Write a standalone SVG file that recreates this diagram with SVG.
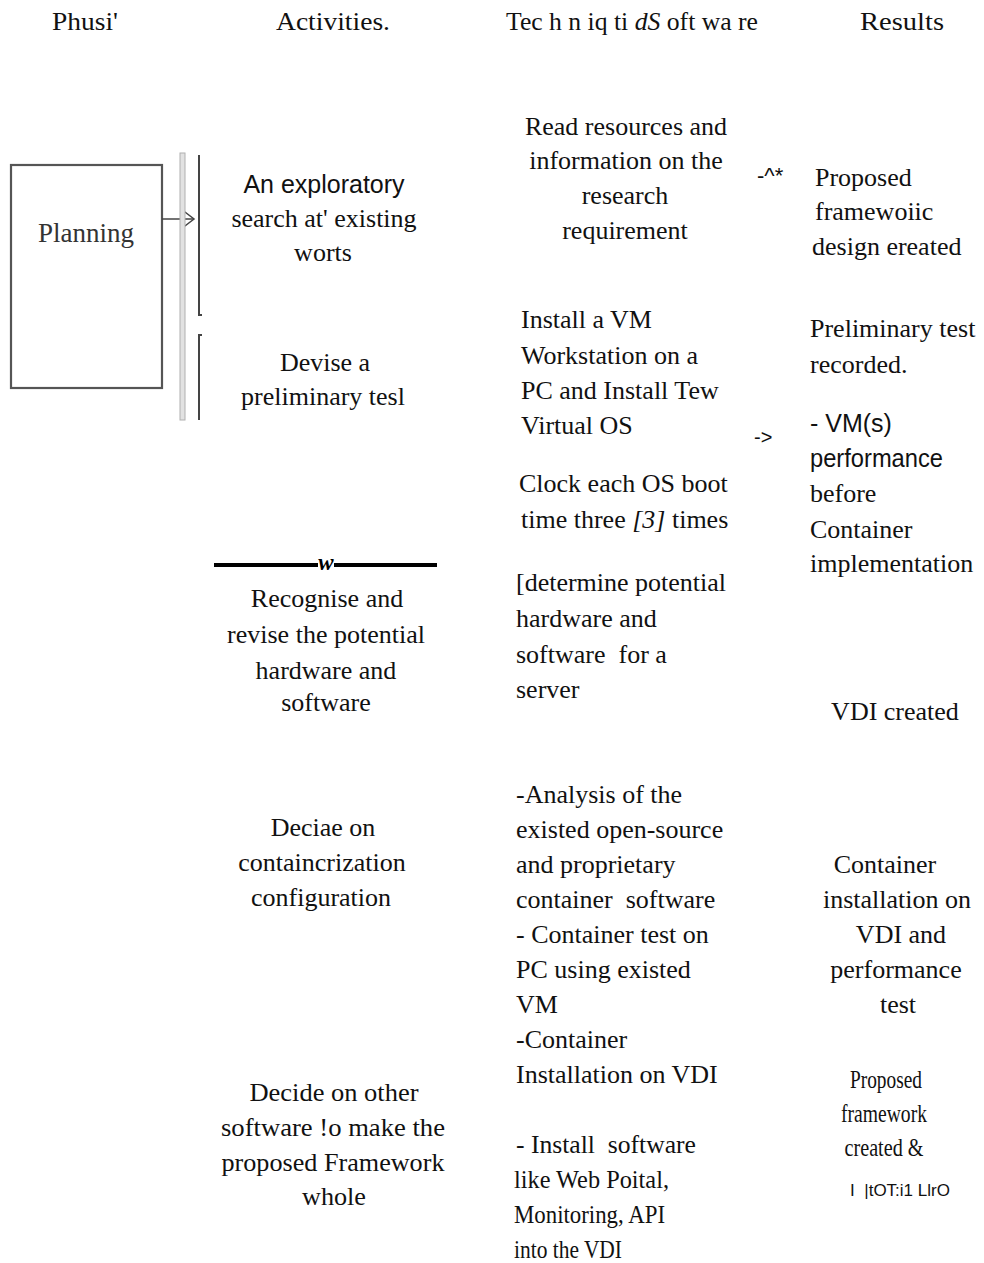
<svg xmlns="http://www.w3.org/2000/svg" width="984" height="1263" viewBox="0 0 984 1263">
  <style>
    .s { font-family: "Liberation Serif", "Times New Roman", serif; font-size: 26px; fill: #111; }
    .h { font-family: "Liberation Serif", "Times New Roman", serif; font-size: 26px; fill: #111; }
    .ss { font-family: "Liberation Sans", Arial, sans-serif; font-size: 25px; fill: #111; }
    .m { text-anchor: middle; }
    .ln { stroke: #444; stroke-width: 2; fill: none; }
  </style>

  <rect width="984" height="1263" fill="#ffffff"/>

  <!-- column headings -->
  <g id="headers">
    <text class="h" x="52" y="30" textLength="66" lengthAdjust="spacingAndGlyphs">Phusi'</text>
    <text class="h" x="276" y="30" textLength="114" lengthAdjust="spacingAndGlyphs">Activities.</text>
    <text class="h" x="506" y="30" textLength="252" lengthAdjust="spacingAndGlyphs">Tec h n iq ti <tspan font-style="italic">dS</tspan> oft wa re</text>
    <text class="h" x="860" y="30" textLength="84" lengthAdjust="spacingAndGlyphs">Results</text>
  </g>

  <!-- phase box -->
  <g id="planning">
    <rect x="11" y="165" width="151" height="223" fill="#fff" stroke="#555" stroke-width="2.2"/>
    <text x="86" y="242" class="m" font-family="Liberation Serif, serif" font-size="27" fill="#333">Planning</text>
  </g>

  <!-- brackets and connectors -->
  <g id="connectors">
    <line x1="162" y1="219" x2="194" y2="219" stroke="#444" stroke-width="1.5"/>
    <polyline points="181,209 194,219 181,229" stroke="#444" stroke-width="1.5" fill="none"/>
    <rect x="180" y="153" width="5" height="267" fill="#e2e2e2" stroke="#b0b0b0" stroke-width="1"/>
    <polyline class="ln" points="199,155 199,315 202,315"/>
    <polyline class="ln" points="202,335 199,335 199,420"/>
    <line x1="214" y1="565" x2="318" y2="565" stroke="#000" stroke-width="4"/>
    <line x1="334" y1="565" x2="437" y2="565" stroke="#000" stroke-width="4"/>
    <text x="326" y="570" class="m" font-family="Liberation Serif, serif" font-size="23" font-style="italic" font-weight="bold" fill="#000">w</text>
    <text x="757" y="183" font-family="Liberation Sans, sans-serif" font-size="22" fill="#111">-^*</text>
    <text x="754" y="444" font-family="Liberation Sans, sans-serif" font-size="20" fill="#111">-&gt;</text>
  </g>

  <!-- activities -->
  <g id="act-search">
    <text class="ss m" x="324" y="193">An exploratory</text>
    <text class="s m" x="324" y="227">search at' existing</text>
    <text class="s m" x="323" y="261">worts</text>
  </g>
  <g id="act-test">
    <text class="s m" x="325" y="371">Devise a</text>
    <text class="s m" x="323" y="405">preliminary tesl</text>
  </g>
  <g id="act-hardware">
    <text class="s m" x="327" y="607">Recognise and</text>
    <text class="s m" x="326" y="643">revise the potential</text>
    <text class="s m" x="326" y="679">hardware and</text>
    <text class="s m" x="326" y="711">software</text>
  </g>
  <g id="act-container">
    <text class="s m" x="323" y="836">Deciae on</text>
    <text class="s m" x="322" y="871">containcrization</text>
    <text class="s m" x="321" y="906">configuration</text>
  </g>
  <g id="act-software">
    <text class="s m" x="334" y="1101" textLength="169" lengthAdjust="spacingAndGlyphs">Decide on other</text>
    <text class="s m" x="333" y="1136" textLength="224" lengthAdjust="spacingAndGlyphs">software !o make the</text>
    <text class="s m" x="333" y="1171" textLength="223" lengthAdjust="spacingAndGlyphs">proposed Framework</text>
    <text class="s m" x="334" y="1205" textLength="64" lengthAdjust="spacingAndGlyphs">whole</text>
  </g>

  <!-- techniques / software -->
  <g id="tech-read">
    <text class="s m" x="626" y="135">Read resources and</text>
    <text class="s m" x="626" y="169">information on the</text>
    <text class="s m" x="625" y="204">research</text>
    <text class="s m" x="625" y="239">requirement</text>
  </g>
  <g id="tech-vm">
    <text class="s" x="521" y="328">Install a VM</text>
    <text class="s" x="521" y="364">Workstation on a</text>
    <text class="s" x="521" y="399">PC and Install Tew</text>
    <text class="s" x="521" y="434">Virtual OS</text>
  </g>
  <g id="tech-clock">
    <text class="s" x="519" y="492">Clock each OS boot</text>
    <text class="s" x="521" y="528">time three <tspan font-style="italic">[3]</tspan> times</text>
  </g>
  <g id="tech-hardware">
    <text class="s" x="516" y="591">[determine potential</text>
    <text class="s" x="516" y="627">hardware and</text>
    <text class="s" x="516" y="663" xml:space="preserve">software  for a</text>
    <text class="s" x="516" y="698">server</text>
  </g>
  <g id="tech-container">
    <text class="s" x="516" y="803">-Analysis of the</text>
    <text class="s" x="516" y="838">existed open-source</text>
    <text class="s" x="516" y="873">and proprietary</text>
    <text class="s" x="516" y="908" xml:space="preserve">container  software</text>
    <text class="s" x="516" y="943">- Container test on</text>
    <text class="s" x="516" y="978">PC using existed</text>
    <text class="s" x="516" y="1013">VM</text>
    <text class="s" x="516" y="1048">-Container</text>
    <text class="s" x="516" y="1083">Installation on VDI</text>
  </g>
  <g id="tech-install">
    <text class="s" x="516" y="1153" xml:space="preserve" textLength="180" lengthAdjust="spacingAndGlyphs">- Install  software</text>
    <text class="s" x="514" y="1188" textLength="155" lengthAdjust="spacingAndGlyphs">like Web Poital,</text>
    <text class="s" x="514" y="1223" textLength="151" lengthAdjust="spacingAndGlyphs">Monitoring, API</text>
    <text class="s" x="514" y="1258" textLength="108" lengthAdjust="spacingAndGlyphs">into the VDI</text>
  </g>

  <!-- results -->
  <g id="res-design">
    <text class="s" x="815" y="186">Proposed</text>
    <text class="s" x="815" y="220">framewoiic</text>
    <text class="s" x="812" y="255">design ereated</text>
  </g>
  <g id="res-prelim">
    <text class="s" x="810" y="337">Preliminary test</text>
    <text class="s" x="810" y="373">recorded.</text>
    <text class="ss" x="810" y="432">- VM(s)</text>
    <text class="ss" x="810" y="467" textLength="133" lengthAdjust="spacingAndGlyphs">performance</text>
    <text class="s" x="810" y="502">before</text>
    <text class="s" x="810" y="538">Container</text>
    <text class="s" x="810" y="572">implementation</text>
  </g>
  <g id="res-vdi">
    <text class="s m" x="895" y="720">VDI created</text>
  </g>
  <g id="res-container">
    <text class="s m" x="885" y="873">Container</text>
    <text class="s m" x="897" y="908">installation on</text>
    <text class="s m" x="901" y="943">VDI and</text>
    <text class="s m" x="896" y="978">performance</text>
    <text class="s m" x="898" y="1013">test</text>
  </g>
  <g id="res-framework">
    <text class="s m" x="886" y="1088" textLength="72" lengthAdjust="spacingAndGlyphs">Proposed</text>
    <text class="s m" x="884" y="1122" textLength="86" lengthAdjust="spacingAndGlyphs">framework</text>
    <text class="s m" x="884" y="1156" textLength="79" lengthAdjust="spacingAndGlyphs">created &amp;</text>
    <text x="900" y="1196" class="m" font-family="Liberation Sans, sans-serif" font-size="17" fill="#111" xml:space="preserve">I  |tOT:i1 LlrO</text>
  </g>
</svg>
